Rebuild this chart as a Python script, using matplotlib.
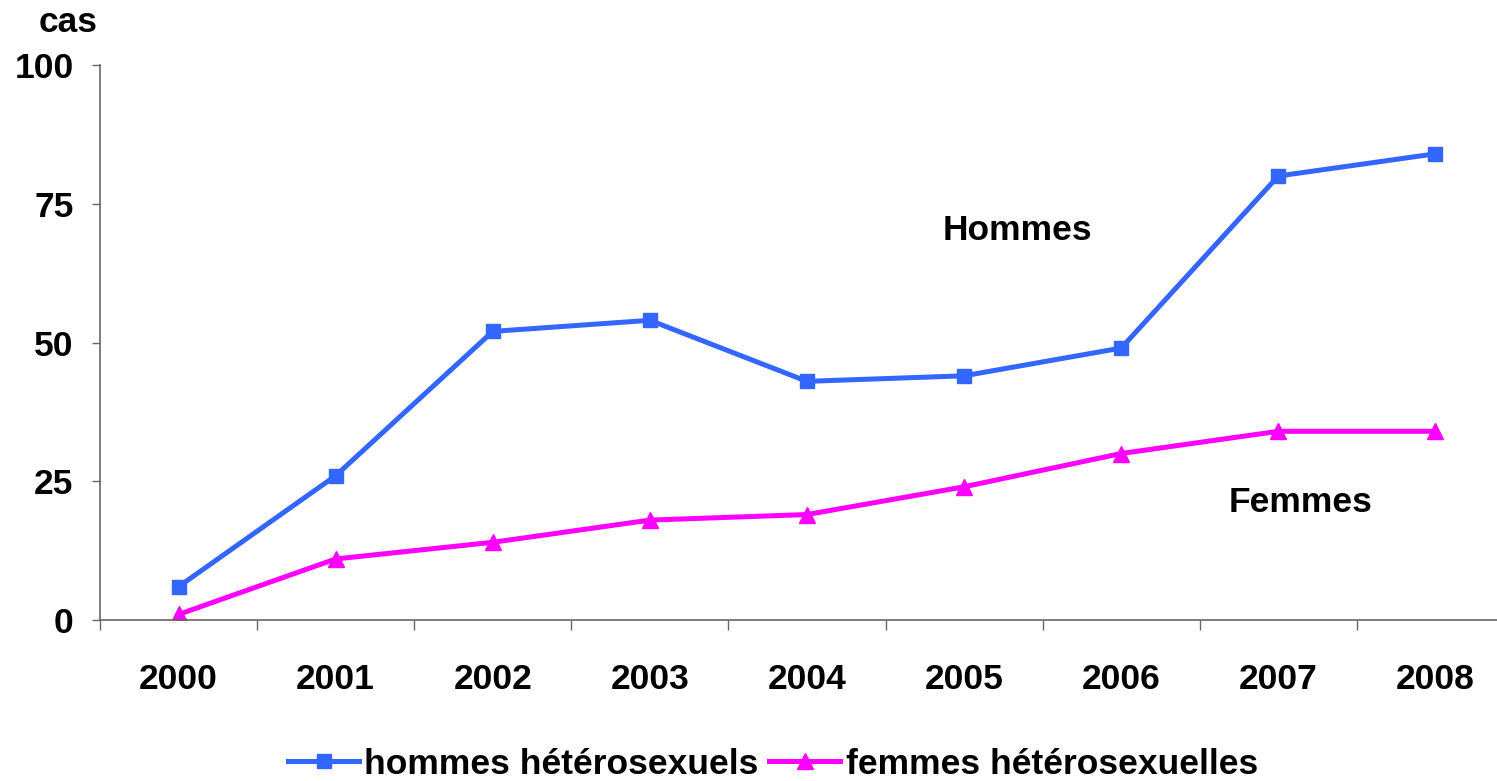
import matplotlib
matplotlib.use("Agg")
import matplotlib.pyplot as plt
import numpy as np

years = ["2000", "2001", "2002", "2003", "2004", "2005", "2006", "2007", "2008"]
hommes = [6, 26, 52, 54, 43, 44, 49, 80, 84]
femmes = [1, 11, 14, 18, 19, 24, 30, 34, 34]
yticks = [0, 25, 50, 75, 100]

plt.rcParams['font.family'] = ['Liberation Sans', 'DejaVu Sans']
plt.rcParams['font.weight'] = 'bold'

FS = 25.5
fig = plt.figure(figsize=(14.97, 7.81), dpi=100)
ax = fig.add_axes([100/1497, 1-620/781, 1414/1497, (620-65)/781])

x = np.arange(len(years))
ax.plot(x, hommes, color='#3366FF', lw=3.6, marker='s', ms=10, label='hommes hétérosexuels')
ax.plot(x, femmes, color='#FF00FF', lw=3.6, marker='^', ms=12, label='femmes hétérosexuelles')

ax.set_xlim(-0.5, len(years)-0.5)
ax.set_ylim(0, 100)
ax.set_yticks(yticks)
ax.set_yticklabels([str(v) for v in yticks], fontsize=FS, fontweight='bold')
ax.set_xticks(np.arange(-0.5, len(years), 1.0))
ax.set_xticklabels([])
ax.set_xticks(x, minor=True)
ax.set_xticklabels(years, minor=True, fontsize=FS, fontweight='bold')
ax.tick_params(axis='x', which='major', direction='out', length=7, width=1, color='#666666')
ax.tick_params(axis='x', which='minor', length=0, pad=31)
ax.tick_params(axis='y', direction='out', length=6, width=1, color='#666666', pad=13)

for s in ['top', 'right']:
    ax.spines[s].set_visible(False)
for s in ['left', 'bottom']:
    ax.spines[s].set_color('#666666')
    ax.spines[s].set_linewidth(1.2)

ax.text(5.34, 70.2, 'Hommes', fontsize=FS, fontweight='bold', ha='center', va='center')
ax.text(7.14, 21.1, 'Femmes', fontsize=FS, fontweight='bold', ha='center', va='center')
fig.text(68/1497, 1-22/781, 'cas', fontsize=FS, fontweight='bold', ha='center', va='center')

fig.legend(loc='center', bbox_to_anchor=(773/1497, 1-764/781), ncol=2, frameon=False,
           handlelength=2.0, handletextpad=0.15, columnspacing=0.3,
           prop={'weight': 'bold', 'size': FS})

fig.savefig('out.png', dpi=100)
